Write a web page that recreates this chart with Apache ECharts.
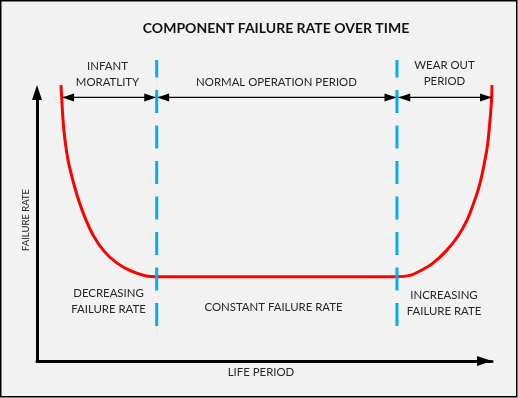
<!DOCTYPE html>
<html><head><meta charset="utf-8">
<script src="https://cdn.jsdelivr.net/npm/echarts@6/dist/echarts.min.js"></script>
<style>html,body{margin:0;padding:0;background:#fff}#c{width:518px;height:398px}</style>
</head><body><div id="c"></div>
<script>
// Failure-rate "bathtub" curve (life period vs failure rate, arbitrary units)
const lifePeriod = [5.45, 5.64, 5.91, 6.36, 7.05, 7.95, 9.09, 10.68, 12.73, 15.23, 18.18, 21.59, 24.77, 27.2,
                    81.8, 84.77, 87.05, 89.77, 92.95, 95.68, 97.73, 99.32, 100.57, 101.59, 102.39, 102.95, 103.3, 103.4];
const failureRate = [105.7, 100.0, 92.3, 84.7, 77.0, 70.5, 63.6, 55.9, 48.3, 42.1, 37.5, 34.3, 32.6, 32.3,
                     32.3, 32.8, 34.5, 37.2, 42.1, 47.9, 54.0, 60.9, 67.4, 75.1, 82.8, 92.3, 100.0, 105.7];
// Period boundaries (dashed lines) and their vertical extent
const periodBoundaries = [27.2, 81.8];
const boundaryRange = [13.4, 115.3];
// Period spans (double arrows) and the level they are drawn at
const periodStart = [5.7, 27.3, 82.1];
const periodEnd = [27.1, 81.7, 103.4];
const arrowLevel = 101;
// Texts
const titleText = 'COMPONENT FAILURE RATE OVER TIME';
const xName = 'LIFE PERIOD';
const yName = 'FAILURE RATE';
const periodNames = ['INFANT\nMORATLITY', 'NORMAL OPERATION PERIOD', 'WEAR OUT\nPERIOD'];
const rateNames = ['DECREASING\nFAILURE RATE', 'CONSTANT FAILURE RATE', 'INCREASING\nFAILURE RATE'];

const FONT = 'Lato';
const FS = 11.4;
const TXT = '#262626';
const chart = echarts.init(document.getElementById('c'), null, {renderer: 'canvas'});

const series = [];
series.push({
  type: 'line', name: 'Failure rate', z: 3,
  data: lifePeriod.map((x, i) => [x, failureRate[i]]),
  smooth: 0.3, symbol: 'none', clip: false,
  lineStyle: {color: '#ff0000', width: 3}
});
periodStart.forEach((s, i) => {
  series.push({
    type: 'line', z: 4, clip: false, silent: true,
    data: [
      {value: [s, arrowLevel], symbolRotate: 90, symbolOffset: [6, 0]},
      {value: [periodEnd[i], arrowLevel], symbolRotate: -90, symbolOffset: [-6, 0]}
    ],
    symbol: 'triangle', symbolSize: [8, 12], showSymbol: true,
    itemStyle: {color: '#000'},
    lineStyle: {color: '#000', width: 1.3}
  });
});
periodBoundaries.forEach(b => {
  series.push({
    type: 'line', z: 5, clip: false, silent: true, symbol: 'none',
    data: [[b, boundaryRange[0]], [b, boundaryRange[1]]],
    lineStyle: {color: '#00b0f0', width: 3, type: [23, 12.5]}
  });
});

function txt(text, x, y, lh) {
  return {
    type: 'text', x: x, y: y, silent: true,
    style: {text: text, align: 'center', verticalAlign: 'middle', font: FS + 'px ' + FONT, lineHeight: lh, fill: TXT}
  };
}

chart.setOption({
  animation: false,
  backgroundColor: '#f2f2f2',
  title: {
    text: titleText, left: 271, top: 16, textAlign: 'center',
    textStyle: {fontFamily: FONT, fontWeight: 'bold', fontSize: 14, color: '#111'}
  },
  grid: {left: 37, right: 26, top: 100, bottom: 37, outerBoundsMode: 'none'},
  xAxis: {
    type: 'value', min: 0, max: 103.4,
    name: xName, nameLocation: 'middle', nameGap: 5.5,
    nameTextStyle: {fontFamily: FONT, fontSize: FS, color: TXT, padding: [0, 7, 0, 0]},
    axisLine: {show: true, lineStyle: {color: '#000', width: 3}, symbol: ['none', 'triangle'], symbolSize: [10, 15], symbolOffset: [0, -7.5]},
    axisTick: {show: false}, axisLabel: {show: false}, splitLine: {show: false}
  },
  yAxis: {
    type: 'value', min: 0, max: 100,
    name: yName, nameLocation: 'middle', nameGap: 6, nameRotate: 90,
    nameTextStyle: {fontFamily: FONT, fontSize: 9.5, color: TXT, padding: [0, 0, 0, 21]},
    axisLine: {show: true, lineStyle: {color: '#000', width: 3}, symbol: ['none', 'triangle'], symbolSize: [10, 15], symbolOffset: [0, 7.5]},
    axisTick: {show: false}, axisLabel: {show: false}, splitLine: {show: false}
  },
  series: series,
  graphic: [
    {type: 'rect', silent: true, z: -10, shape: {x: 0.75, y: 0.75, width: 516, height: 396}, style: {fill: 'none', stroke: '#000', lineWidth: 1.5}},
    txt(periodNames[0], 107.5, 74.5, 15.5),
    txt(periodNames[1], 276.5, 82, 16),
    txt(periodNames[2], 444.5, 73.5, 16.5),
    txt(rateNames[0], 108.5, 301, 16),
    txt(rateNames[1], 273.5, 307.5, 16),
    txt(rateNames[2], 444, 303, 16)
  ]
});
</script></body></html>
